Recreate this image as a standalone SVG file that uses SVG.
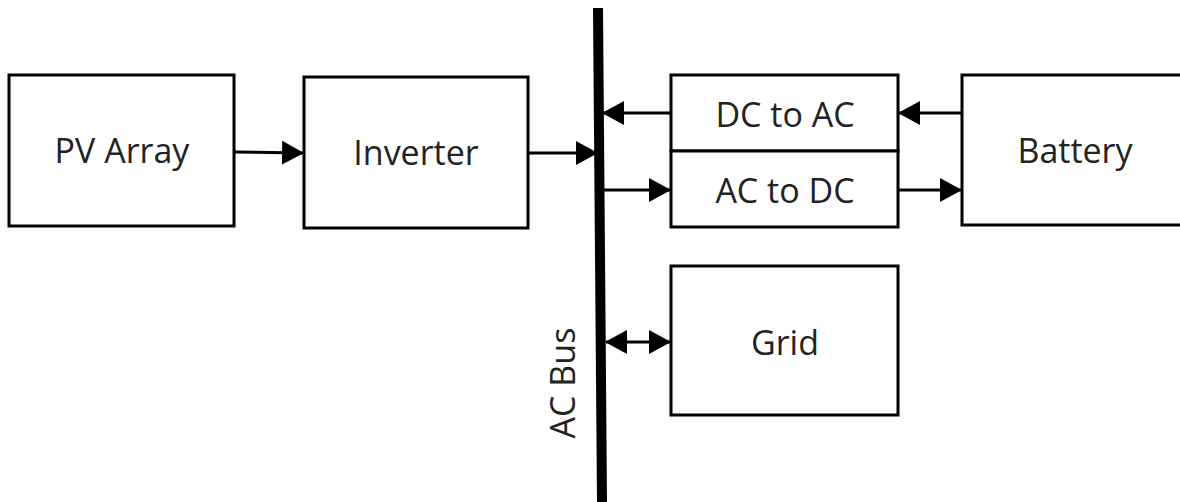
<svg xmlns="http://www.w3.org/2000/svg" width="1180" height="502" viewBox="0 0 1180 502">
<style>
.box{fill:#fff;stroke:#000;stroke-width:3}
.lbl{font-family:"Open Sans","Noto Sans",sans-serif;font-size:34px;fill:#222;text-anchor:middle}
.conn{stroke:#000;stroke-width:3;fill:none}
</style>
<defs>
<marker id="ah" markerUnits="userSpaceOnUse" markerWidth="22" markerHeight="24" refX="21" refY="12" orient="auto-start-reverse" viewBox="0 0 22 24">
<path d="M0,0 L22,12 L0,24 z" fill="#000"/>
</marker>
</defs>
<rect width="1180" height="502" fill="#fff"/>
<g id="ac-bus">
<polygon points="593,8 603,8 607,502 597,502" fill="#000"/>
<text class="lbl" transform="translate(575,383) rotate(-90)">AC Bus</text>
</g>
<g id="pv-array">
<rect class="box" x="9" y="75" width="225" height="151"/>
<text class="lbl" x="122" y="163">PV Array</text>
</g>
<g id="inverter">
<rect class="box" x="304" y="77" width="224" height="151"/>
<text class="lbl" x="416" y="165">Inverter</text>
</g>
<g id="dc-to-ac">
<rect class="box" x="671" y="75" width="227" height="76"/>
<text class="lbl" x="785" y="127">DC to AC</text>
</g>
<g id="ac-to-dc">
<rect class="box" x="671" y="151" width="227" height="76"/>
<text class="lbl" x="785" y="203">AC to DC</text>
</g>
<g id="battery">
<rect class="box" x="962" y="75" width="230" height="150"/>
<text class="lbl" x="1075" y="163">Battery</text>
</g>
<g id="grid">
<rect class="box" x="671" y="266" width="227" height="149"/>
<text class="lbl" x="785" y="355">Grid</text>
</g>
<g id="connectors">
<line class="conn" x1="235" y1="152" x2="303" y2="153" marker-end="url(#ah)"/>
<line class="conn" x1="529" y1="153" x2="597" y2="153" marker-end="url(#ah)"/>
<line class="conn" x1="670" y1="113" x2="603" y2="113" marker-end="url(#ah)"/>
<line class="conn" x1="961" y1="113" x2="899" y2="113" marker-end="url(#ah)"/>
<line class="conn" x1="603" y1="190" x2="670" y2="190" marker-end="url(#ah)"/>
<line class="conn" x1="899" y1="190" x2="961" y2="190" marker-end="url(#ah)"/>
<line class="conn" x1="606" y1="342" x2="670" y2="342" marker-start="url(#ah)" marker-end="url(#ah)"/>
</g>
</svg>
